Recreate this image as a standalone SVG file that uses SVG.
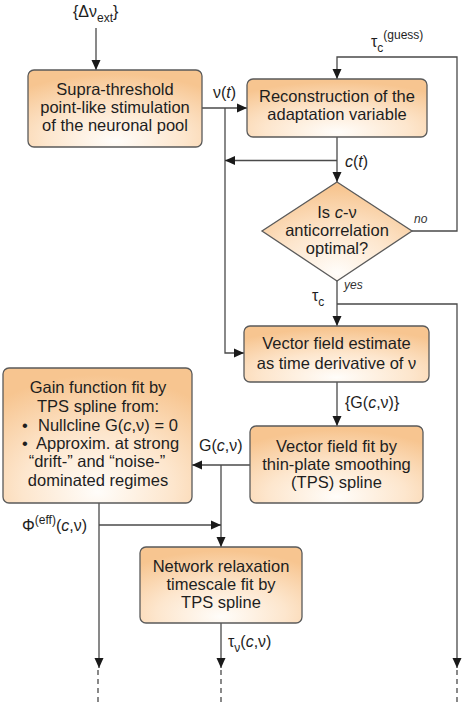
<svg xmlns="http://www.w3.org/2000/svg" width="467" height="702" viewBox="0 0 467 702">
<style>
text{font-family:"Liberation Sans",Arial,sans-serif;fill:#1e1e1e;}
.t{font-size:16.5px;text-anchor:middle;}
.g{font-size:16.5px;}
.lb{font-size:16px;}
.sm{font-size:12px;font-style:italic;fill:#333;}
.sub{font-size:12px;}
.box{fill:url(#og);stroke:#5a5a5a;stroke-width:1.3;}
.c{fill:none;stroke:#4a4a4a;stroke-width:1.3;}
.d{fill:none;stroke:#4a4a4a;stroke-width:1.3;stroke-dasharray:5,4;}
</style>
<defs>
<radialGradient id="og" cx="0.5" cy="0.85" r="0.8" fx="0.5" fy="0.92">
<stop offset="0" stop-color="#fffdfa"/>
<stop offset="0.5" stop-color="#fde6cd"/>
<stop offset="1" stop-color="#f7c590"/>
</radialGradient>
<marker id="ah" markerWidth="10" markerHeight="10" viewBox="0 0 10 10" refX="10" refY="5" orient="auto" markerUnits="userSpaceOnUse">
<path d="M0,0.5 L10,5 L0,9.5 Z" fill="#1a1a1a"/>
</marker>
</defs>
<rect width="467" height="702" fill="#ffffff"/>

<g id="connectors">
<line class="c" x1="96" y1="28" x2="96" y2="70" marker-end="url(#ah)"/>
<line class="c" x1="202" y1="108" x2="247" y2="108" marker-end="url(#ah)"/>
<polyline class="c" points="225,108 225,353 244,353" marker-end="url(#ah)"/>
<line class="c" x1="337" y1="137" x2="337" y2="182" marker-end="url(#ah)"/>
<line class="c" x1="337" y1="160.5" x2="225" y2="160.5" marker-end="url(#ah)"/>
<polyline class="c" points="412,231 457,231 457,57 337,57 337,79" marker-end="url(#ah)"/>
<line class="c" x1="337" y1="281" x2="337" y2="326" marker-end="url(#ah)"/>
<polyline class="c" points="337,304 457,304 457,668" marker-end="url(#ah)"/>
<line class="c" x1="337" y1="382" x2="337" y2="426" marker-end="url(#ah)"/>
<line class="c" x1="250" y1="465" x2="192" y2="465" marker-end="url(#ah)"/>
<line class="c" x1="221" y1="465" x2="221" y2="547" marker-end="url(#ah)"/>
<line class="c" x1="99" y1="503" x2="99" y2="668" marker-end="url(#ah)"/>
<line class="c" x1="99" y1="525" x2="221" y2="525" marker-end="url(#ah)"/>
<line class="c" x1="221" y1="623" x2="221" y2="668" marker-end="url(#ah)"/>
<line class="d" x1="98" y1="670" x2="98" y2="702"/>
<line class="d" x1="221" y1="670" x2="221" y2="702"/>
<line class="d" x1="457" y1="670" x2="457" y2="702"/>

<text class="lb" x="73" y="17">{Δν<tspan class="sub" dy="5">ext</tspan><tspan dy="-5">}</tspan></text>
<text class="lb" x="213" y="98">ν(<tspan font-style="italic">t</tspan>)</text>
<text class="lb" x="345" y="167"><tspan font-style="italic">c</tspan>(<tspan font-style="italic">t</tspan>)</text>
<text class="lb" x="371" y="47">τ<tspan class="sub" dy="5">c</tspan><tspan class="sub" dy="-13">(guess)</tspan></text>
<text class="sm" x="414" y="223">no</text>
<text class="sm" x="344" y="289">yes</text>
<text class="lb" x="312" y="301">τ<tspan class="sub" dy="5">c</tspan></text>
<text class="lb" x="345" y="408">{G(<tspan font-style="italic">c</tspan>,ν)}</text>
<text class="lb" x="199" y="451">G(<tspan font-style="italic">c</tspan>,ν)</text>
<text class="lb" x="22" y="531">Φ<tspan class="sub" dy="-7">(eff)</tspan><tspan dy="7">(</tspan><tspan font-style="italic">c</tspan>,ν)</text>
<text class="lb" x="228" y="647">τ<tspan class="sub" dy="5">ν</tspan><tspan dy="-5">(</tspan><tspan font-style="italic">c</tspan>,ν)</text>
</g>

<g id="stimulation">
<rect class="box" x="28" y="70" width="174" height="77" rx="6"/>
<text class="t" x="115" y="95">Supra-threshold</text>
<text class="t" x="115" y="113">point-like stimulation</text>
<text class="t" x="115" y="131">of the neuronal pool</text>
</g>

<g id="reconstruction">
<rect class="box" x="247" y="79" width="180" height="58" rx="6"/>
<text class="t" x="337" y="102">Reconstruction of the</text>
<text class="t" x="337" y="120">adaptation variable</text>
</g>

<g id="decision">
<polygon class="box" points="337,182 412,231 337,281 262,231"/>
<text class="t" x="337" y="218">Is <tspan font-style="italic">c</tspan>-ν</text>
<text class="t" x="337" y="236">anticorrelation</text>
<text class="t" x="337" y="254">optimal?</text>
</g>

<g id="vector-estimate">
<rect class="box" x="244" y="326" width="185" height="56" rx="6"/>
<text class="t" x="336.5" y="349">Vector field estimate</text>
<text class="t" x="336.5" y="369">as time derivative of ν</text>
</g>

<g id="vector-fit">
<rect class="box" x="250" y="426" width="173" height="77" rx="6"/>
<text class="t" x="336.5" y="452">Vector field fit by</text>
<text class="t" x="336.5" y="470">thin-plate smoothing</text>
<text class="t" x="336.5" y="488">(TPS) spline</text>
</g>

<g id="gain">
<rect class="box" x="3" y="368" width="189" height="135" rx="6"/>
<text class="t" x="98" y="393">Gain function fit by</text>
<text class="t" x="98" y="412">TPS spline from:</text>
<text class="g" x="22" y="431">•</text>
<text class="g" x="38" y="431">Nullcline G(<tspan font-style="italic">c</tspan>,ν) = 0</text>
<text class="g" x="22" y="449">•</text>
<text class="g" x="36" y="449">Approxim. at strong</text>
<text class="t" x="97" y="467">“drift-” and “noise-”</text>
<text class="t" x="98" y="486">dominated regimes</text>
</g>

<g id="network">
<rect class="box" x="140" y="547" width="162" height="76" rx="6"/>
<text class="t" x="221" y="572">Network relaxation</text>
<text class="t" x="221" y="590">timescale fit by</text>
<text class="t" x="221" y="608">TPS spline</text>
</g>
</svg>
